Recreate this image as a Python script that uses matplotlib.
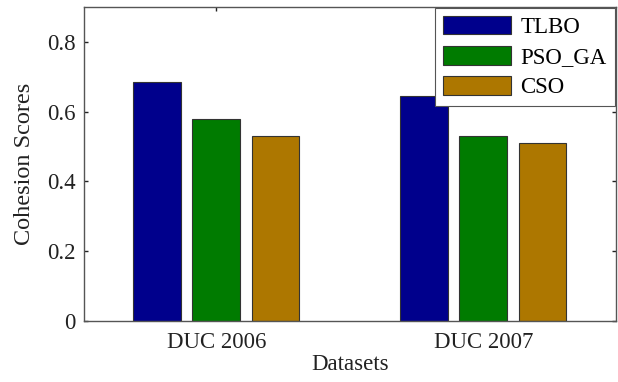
import numpy as np
import matplotlib
matplotlib.use("Agg")
import matplotlib.pyplot as plt

plt.rcParams['font.family'] = ['Liberation Serif', 'DejaVu Serif']

datasets = ["DUC 2006", "DUC 2007"]
methods = ["TLBO", "PSO_GA", "CSO"]
tlbo = [0.685, 0.645]
pso_ga = [0.580, 0.530]
cso = [0.531, 0.509]
colors = ["#00008C", "#007B00", "#AD7700"]
y_ticks = [0, 0.2, 0.4, 0.6, 0.8]
y_tick_labels = ["0", "0.2", "0.4", "0.6", "0.8"]

fig = plt.figure(figsize=(6.18, 3.82), dpi=100)
ax = fig.add_axes([84/618, 1 - 321/382, (616-84)/618, (321-7)/382])

x = np.arange(1, len(datasets) + 1)
pitch = 0.222
width = 0.178
for i, (vals, name) in enumerate(zip([tlbo, pso_ga, cso], methods)):
    ax.bar(x + (i - 1) * pitch, vals, width, color=colors[i], edgecolor="#333333",
           linewidth=0.8, label=name, zorder=2)

ax.set_xlim(0.505, 2.497)
ax.set_ylim(0, 0.9)
ax.set_xticks(x)
ax.set_xticklabels(datasets)
ax.set_yticks(y_ticks)
ax.set_yticklabels(y_tick_labels)
ax.set_axisbelow(True)
ax.tick_params(direction='in', length=3, width=1, top=True, right=True,
               labelsize=16.5, colors="#222222", pad=6)
ax.tick_params(axis='x', pad=8)
for s in ax.spines.values():
    s.set_color("#555555")
    s.set_linewidth(1.0)

ax.set_xlabel("Datasets", fontsize=16.5, color="#222222", labelpad=1)
ax.set_ylabel("Cohesion Scores", fontsize=17.5, color="#222222", labelpad=9)

leg = ax.legend(loc='upper right', bbox_to_anchor=(1.0, 1.0), borderaxespad=0.05,
                fontsize=16.5, handlelength=3.0, handleheight=0.85, labelspacing=0.35,
                handletextpad=0.4, borderpad=0.35, fancybox=False, framealpha=1,
                edgecolor="#555555")
leg.get_frame().set_linewidth(0.8)
leg.set_zorder(5)

fig.savefig("out.png", dpi=100)
